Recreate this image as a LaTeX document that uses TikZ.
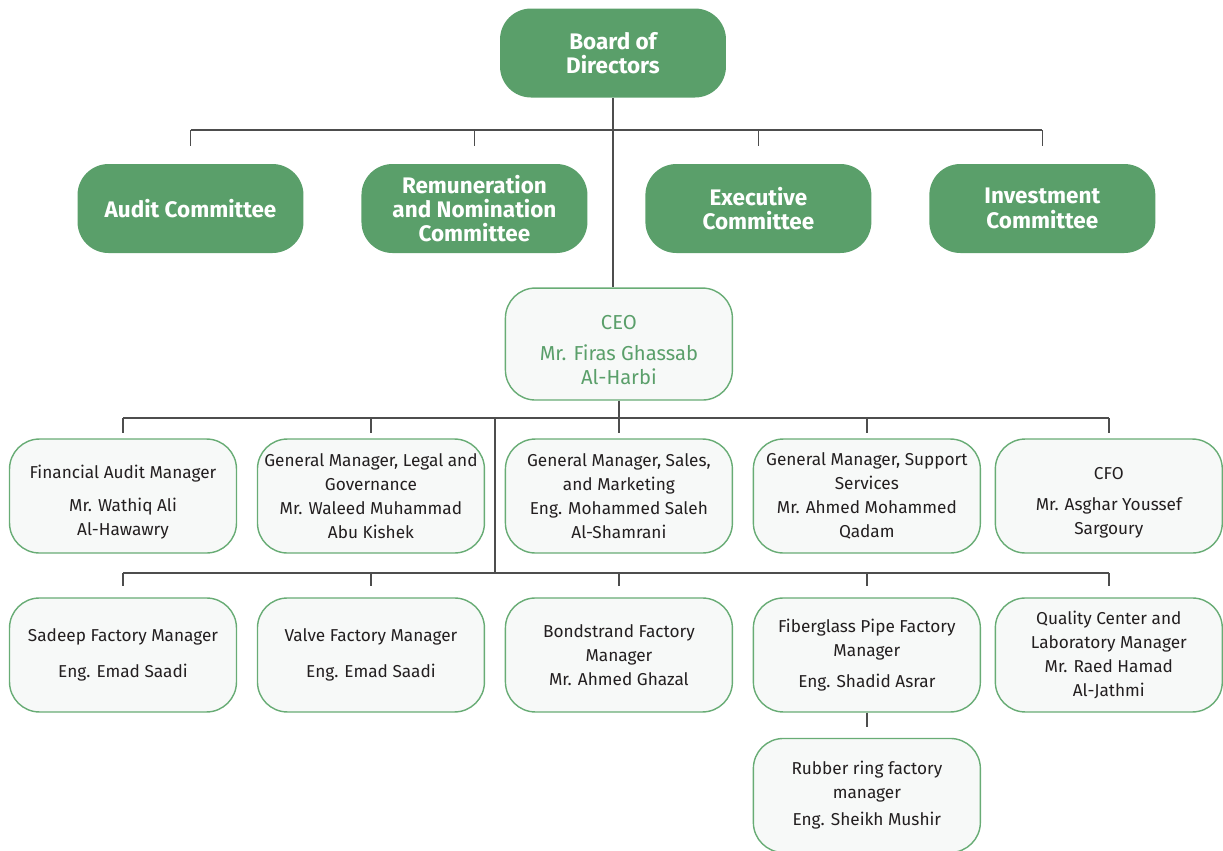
\documentclass[tikz,border=0pt]{standalone}
\usepackage{fontspec}
\setmainfont{Fira Sans}
\definecolor{boardgreen}{RGB}{90,159,106}
\definecolor{boxline}{RGB}{104,172,117}
\definecolor{boxfill}{RGB}{247,249,248}
\definecolor{linkgray}{RGB}{77,77,77}
\definecolor{textdark}{RGB}{35,31,32}

\begin{document}
\begin{tikzpicture}[
		x = 0.02cm, y = 0.02cm, node distance = 4.96cm,
		greenbox/.style={rectangle, rounded corners = 0.62cm, fill = boardgreen, text = white,
			font = \fontsize{12.8}{13.8}\selectfont\bfseries, align = center,
			minimum width = 4.52cm, minimum height = 1.78cm},
		staffbox/.style={rectangle, rounded corners = 0.6cm, draw = boxline, line width = 0.8pt,
			fill = boxfill, text = textdark, font = \fontsize{9.8}{13.6}\selectfont, align = center,
			minimum width = 4.54cm, minimum height = 2.28cm, inner sep = 2pt},
		link/.style={draw = linkgray, line width = 0.85pt}
		]
		\useasboundingbox (0,0) rectangle (1223,-850);
		
		\node[greenbox](B0) at (613,-53){Board of\\Directors};
		
		\node[greenbox](C1) at (190.5,-208.5){Audit Committee};
		\node[greenbox, right of = C1, xshift = 0.72cm](C2){Remuneration\\and Nomination\\Committee};
		\node[greenbox, right of = C2, xshift = 0.72cm](C3){Executive\\Committee};
		\node[greenbox, right of = C3, xshift = 0.72cm](C4){Investment\\Committee};
		
		\node[staffbox](M1) at (123,-496){\mbox{}\\[1pt]Financial Audit Manager\\[5pt]Mr. Wathiq Ali\\Al-Hawawry};
		\node[staffbox, right of = M1](M2){General Manager, Legal and\\Governance\\Mr. Waleed Muhammad\\Abu Kishek};
		\node[staffbox, right of = M2](M3){General Manager, Sales,\\and Marketing\\Eng. Mohammed Saleh\\Al-Shamrani};
		\node[staffbox, right of = M3](M4){General Manager, Support\\Services\\Mr. Ahmed Mohammed\\Qadam};
		\node[staffbox, right of = M4, xshift = -0.12cm](M5){\mbox{}\\[1pt]CFO\\[4pt]Mr. Asghar Youssef\\Sargoury};
		
		\node[staffbox, text = boardgreen, font = \fontsize{11.5}{13.6}\selectfont,
		minimum height = 2.24cm, above of = M3, yshift = -1.92cm](CEO){\mbox{}\\[1pt]CEO\\[4pt]Mr. Firas Ghassab\\Al-Harbi};
		
		\node[staffbox, below of = M1, yshift = 1.78cm](F1){Sadeep Factory Manager\\[7pt]Eng. Emad Saadi};
		\node[staffbox, right of = F1](F2){Valve Factory Manager\\[7pt]Eng. Emad Saadi};
		\node[staffbox, right of = F2](F3){Bondstrand Factory\\Manager\\Mr. Ahmed Ghazal};
		\node[staffbox, right of = F3](F4){Fiberglass Pipe Factory\\Manager\\[4pt]Eng. Shadid Asrar};
		\node[staffbox, right of = F4, xshift = -0.12cm](F5){Quality Center and\\Laboratory Manager\\Mr. Raed Hamad\\Al-Jathmi};
		\node[staffbox, below of = F4, yshift = 2.15cm](F6){Rubber ring factory\\manager\\[2pt]Eng. Sheikh Mushir};
		
		% bus levels
		\coordinate (K1) at (0,-130);
		\coordinate (K2) at (0,-418);
		\coordinate (K3) at (0,-573);
		\coordinate (J1) at (495,-418);
		
		\draw[link] (B0.south) -- (B0.south |- CEO.north);
		\draw[link] (C1.north |- K1) -- (C4.north |- K1);
		\draw[link] (C1.north |- K1) -- ([yshift = 0.36cm]C1.north);
		\draw[link] (C2.north |- K1) -- ([yshift = 0.36cm]C2.north);
		\draw[link] (C3.north |- K1) -- ([yshift = 0.36cm]C3.north);
		\draw[link] (C4.north |- K1) -- ([yshift = 0.36cm]C4.north);
		
		\draw[link] (CEO.south) -- (CEO.south |- K2);
		\draw[link] (M1.north |- K2) -- (M5.north |- K2);
		\draw[link] (M1.north |- K2) -- ([yshift = 0.1cm]M1.north);
		\draw[link] (M2.north |- K2) -- ([yshift = 0.1cm]M2.north);
		\draw[link] (M3.north |- K2) -- ([yshift = 0.1cm]M3.north);
		\draw[link] (M4.north |- K2) -- ([yshift = 0.1cm]M4.north);
		\draw[link] (M5.north |- K2) -- ([yshift = 0.1cm]M5.north);
		
		\draw[link] (J1) -- (J1 |- K3);
		\draw[link] (F1.north |- K3) -- (F5.north |- K3);
		\draw[link] (F1.north |- K3) -- ([yshift = 0.22cm]F1.north);
		\draw[link] (F2.north |- K3) -- ([yshift = 0.22cm]F2.north);
		\draw[link] (F3.north |- K3) -- ([yshift = 0.22cm]F3.north);
		\draw[link] (F4.north |- K3) -- ([yshift = 0.22cm]F4.north);
		\draw[link] (F5.north |- K3) -- ([yshift = 0.22cm]F5.north);
		\draw[link] (F4.south) -- ([yshift = 0.22cm]F6.north);
		
	\end{tikzpicture}
\end{document}
